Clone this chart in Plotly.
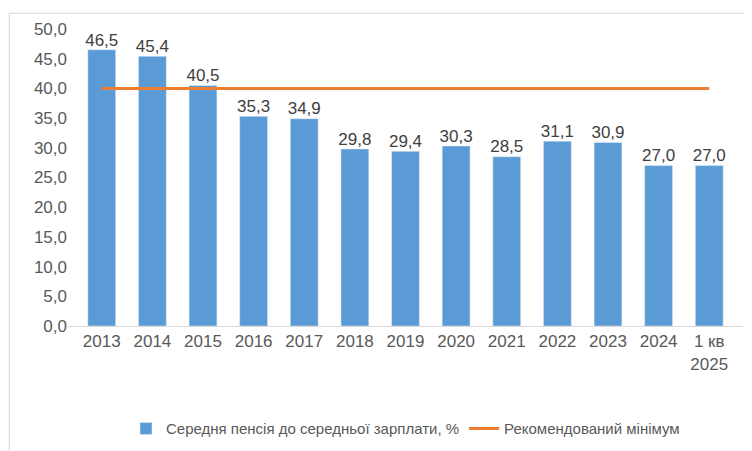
import plotly.graph_objects as go

categories = ["2013","2014","2015","2016","2017","2018","2019","2020","2021","2022","2023","2024","1 кв<br>2025"]
pension_ratio = [46.5,45.4,40.5,35.3,34.9,29.8,29.4,30.3,28.5,31.1,30.9,27.0,27.0]
minimum = [40]*len(categories)
labels = [f"{v:.1f}".replace(".", ",") for v in pension_ratio]

fig = go.Figure()
fig.add_bar(x=categories, y=pension_ratio, name="Середня пенсія до середньої зарплати, %",
            marker_color="#5B9BD5")
fig.add_scatter(x=categories, y=minimum, mode="lines", name="Рекомендований мінімум",
                line=dict(color="#ED7D31", width=3))
fig.add_scatter(x=categories, y=pension_ratio, mode="text", text=labels,
                textposition="top center", cliponaxis=False, showlegend=False,
                textfont=dict(size=17, color="#404040"), hoverinfo="skip")
fig.update_layout(
    width=752, height=451, paper_bgcolor="white", plot_bgcolor="white",
    margin=dict(l=60, r=17, t=18, b=133),
    font=dict(family="Liberation Sans, Arial", color="#595959"),
    bargap=0.45,
    showlegend=True,
    legend=dict(orientation="h", x=0.5, xanchor="center", y=-0.29, yanchor="top",
                font=dict(size=15, color="#595959")),
    xaxis=dict(tickfont=dict(size=17), showline=True, linecolor="#D9D9D9", ticks=""),
    yaxis=dict(range=[0, 50], dtick=5, tickformat=".1f",
               tickfont=dict(size=17), showgrid=False, zeroline=False),
    separators=", ",
    shapes=[dict(type="rect", xref="paper", yref="paper", x0=-0.087, x1=1.022, y0=-0.437, y1=1.053,
                 line=dict(color="#D9D9D9", width=1))],
)
fig.write_html("out.html")
